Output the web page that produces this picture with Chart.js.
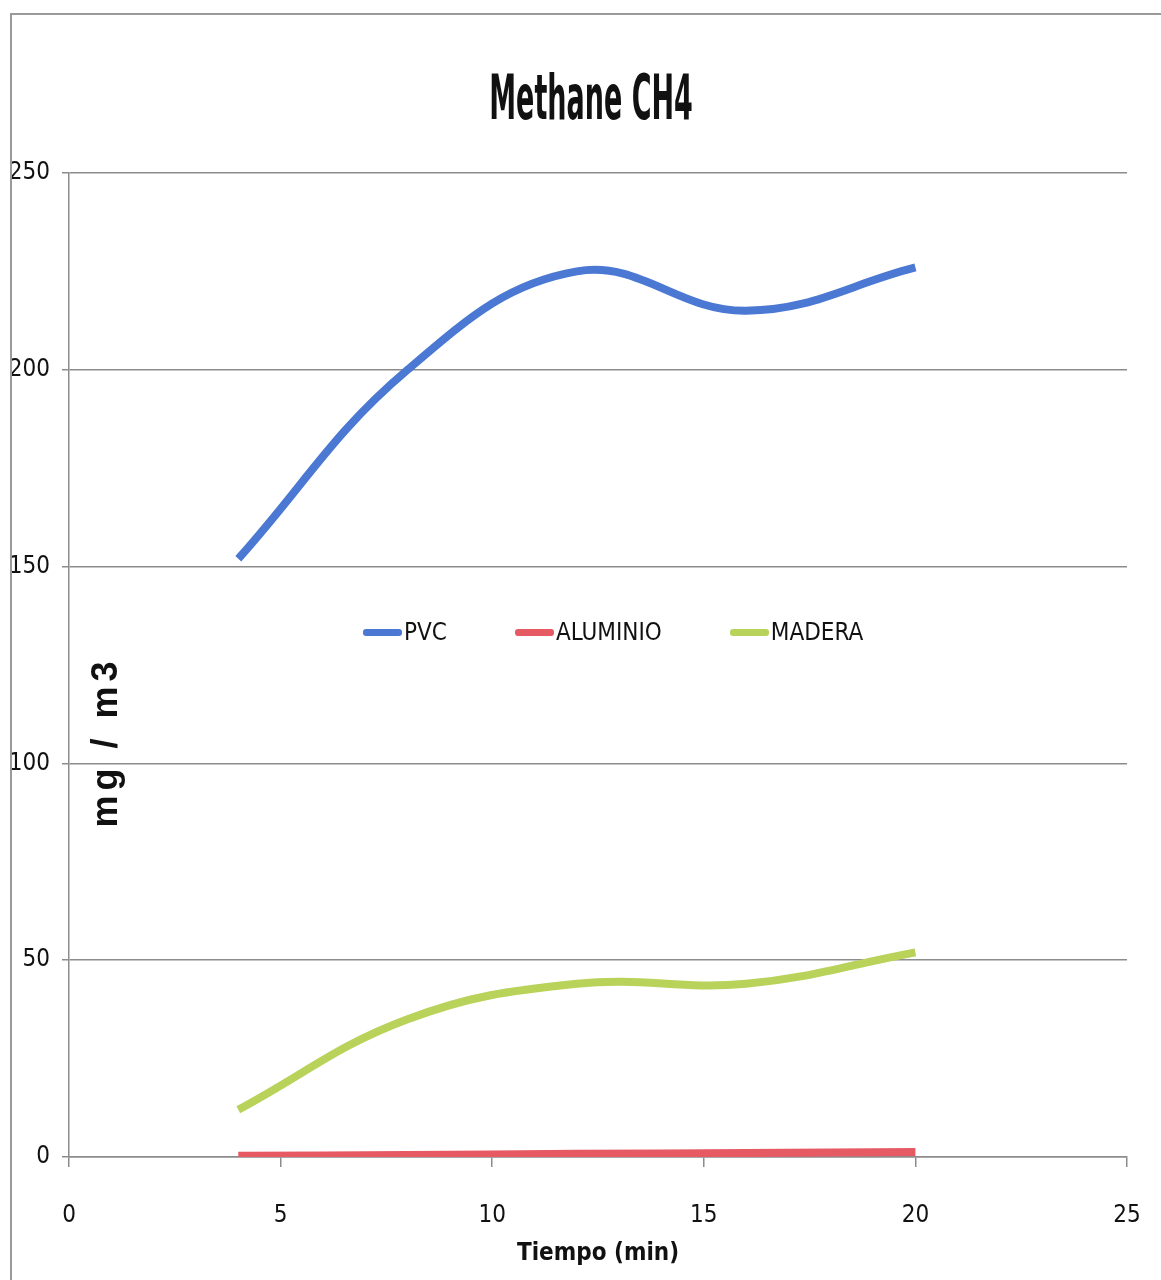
<!DOCTYPE html>
<html>
<head>
<meta charset="utf-8">
<script src="https://cdn.jsdelivr.net/npm/chart.js@4/dist/chart.umd.min.js"></script>
<style>
  body { margin: 0; background: #fff; }
  #wrap { position: relative; width: 1161px; height: 1280px; }
  #frame { position: absolute; left: 10px; top: 13px; width: 1160px; height: 1280px;
           border-left: 2px solid #9a9a9a; border-top: 2px solid #9a9a9a; }
  #title { position: absolute; left: 591px; top: 97px; transform: translate(-50%, -50%) scale(0.75, 1.55);
           font-family: "DejaVu Sans Condensed", sans-serif; font-weight: bold; font-size: 40px;
           white-space: nowrap; color: #111; }
  #legend { position: absolute; left: 363px; top: 618px; display: flex; gap: 68px;
            font-family: "DejaVu Sans Condensed", sans-serif; font-size: 24px; color: #111; }
  #legend .item { display: flex; align-items: center; }
  #legend .swatch { width: 39px; height: 7px; border-radius: 3px; margin-right: 2px; }
  #ytitle { position: absolute; left: 105px; top: 742px; transform: translate(-50%, -50%) rotate(-90deg);
            font-family: "Liberation Sans", Arial, sans-serif; font-weight: bold; font-size: 36px;
            letter-spacing: 5px; white-space: nowrap; color: #111; }
</style>
</head>
<body>
<div id="wrap">
  <canvas id="myChart" width="1161" height="1280"></canvas>
  <div id="frame"></div>
  <div id="title">Methane CH4</div>
  <div id="legend"></div>
  <div id="ytitle">mg / m3</div>
</div>
<script>
var tiempo = [4, 8, 12, 16, 20];
var pvc = [152, 200, 225, 215, 226];
var aluminio = [0.3, 0.5, 0.8, 1.0, 1.3];
var madera = [12, 35, 44, 44, 52];
var xTicks = [0, 5, 10, 15, 20, 25];
var yTicks = [0, 50, 100, 150, 200, 250];

var series = [
    { label: 'PVC', values: pvc, color: '#4a78d2' },
    { label: 'ALUMINIO', values: aluminio, color: '#e65a64' },
    { label: 'MADERA', values: madera, color: '#b8d25a' }
];

var narrow = '"DejaVu Sans Condensed", sans-serif';

var ctx = document.getElementById('myChart').getContext('2d');
var myChart = new Chart(ctx, {
    type: 'scatter',
    data: {
        datasets: series.map(function (s) {
            return {
                label: s.label,
                data: tiempo.map(function (t, i) { return { x: t, y: s.values[i] }; }),
                borderColor: s.color,
                backgroundColor: s.color,
                showLine: true,
                tension: 0.4,
                borderWidth: 8,
                pointRadius: 0,
                borderCapStyle: 'butt'
            };
        })
    },
    options: {
        responsive: false,
        animation: false,
        layout: { padding: { left: 0, right: 34, top: 173, bottom: 0 } },
        plugins: {
            legend: { display: false },
            tooltip: { enabled: false }
        },
        scales: {
            x: {
                type: 'linear',
                min: 0,
                max: 25,
                afterBuildTicks: function (s) { s.ticks = xTicks.map(function (v) { return { value: v }; }); },
                afterFit: function (s) { s.height = 123; s.paddingRight = 0; s.paddingLeft = 0; },
                grid: { drawOnChartArea: false, color: '#8c8c8c', lineWidth: 1.5, tickLength: 10 },
                border: { color: '#8c8c8c', width: 1.5 },
                ticks: { color: '#111', padding: 34, maxRotation: 0, font: { family: narrow, size: 24 } },
                title: {
                    display: true,
                    text: 'Tiempo (min)',
                    color: '#111',
                    font: { family: narrow, size: 24, weight: 'bold' },
                    padding: { top: 0, bottom: 12 }
                }
            },
            y: {
                min: 0,
                max: 250,
                afterBuildTicks: function (s) { s.ticks = yTicks.map(function (v) { return { value: v }; }); },
                afterFit: function (s) { s.width = 69; },
                grid: { color: '#8c8c8c', lineWidth: 1.5, tickLength: 7 },
                border: { color: '#8c8c8c', width: 1.5 },
                ticks: { color: '#111', padding: 12, font: { family: narrow, size: 24 } }
            }
        }
    }
});

var legend = document.getElementById('legend');
series.forEach(function (s) {
    var item = document.createElement('div');
    item.className = 'item';
    item.innerHTML = '<span class="swatch" style="background:' + s.color + '"></span><span>' + s.label + '</span>';
    legend.appendChild(item);
});
</script>
</body>
</html>
